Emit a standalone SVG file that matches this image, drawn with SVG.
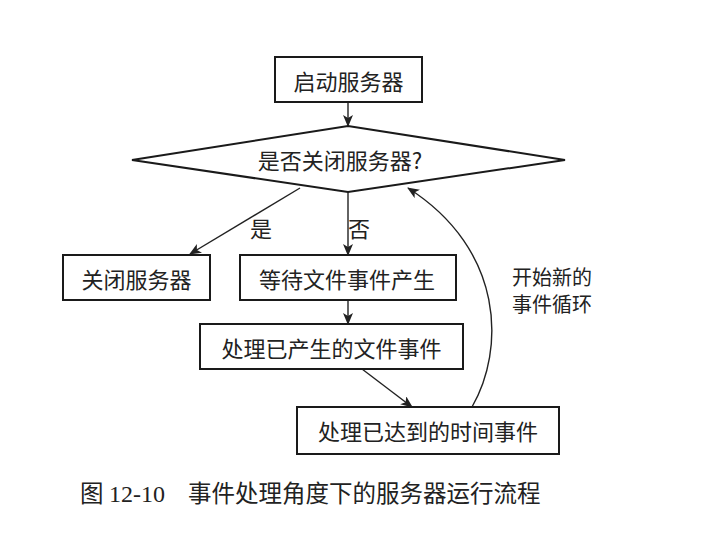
<svg xmlns="http://www.w3.org/2000/svg" width="704" height="536" viewBox="0 0 704 536">
<style>
.box{fill:#fff;stroke:#1a1a1a;stroke-width:2}
.t{font-family:"Noto Sans CJK SC","Noto Sans",sans-serif;font-size:22px;fill:#222;text-anchor:middle;dominant-baseline:central}
.c{fill:none;stroke:#222;stroke-width:1.4}
.cap{font-family:"Noto Sans CJK SC",sans-serif;font-size:23.5px;fill:#222}
</style>
<defs>
<marker id="ah" viewBox="0 0 12 10" refX="11" refY="5" markerWidth="12" markerHeight="10" markerUnits="userSpaceOnUse" orient="auto">
<path d="M0,0 L12,5 L0,10 L3,5 Z" fill="#222"/>
</marker>
</defs>
<rect width="704" height="536" fill="#fff"/>
<g id="connectors">
<line class="c" x1="348" y1="102" x2="348" y2="126" marker-end="url(#ah)"/>
<line class="c" x1="300" y1="188" x2="190" y2="254" marker-end="url(#ah)"/>
<line class="c" x1="348" y1="192" x2="348" y2="255" marker-end="url(#ah)"/>
<line class="c" x1="348" y1="300" x2="348" y2="324" marker-end="url(#ah)"/>
<line class="c" x1="362" y1="369" x2="412" y2="407" marker-end="url(#ah)"/>
<path class="c" d="M472,407 C505,350 505,250 408,188" marker-end="url(#ah)"/>
<text class="t" x="261" y="227">是</text>
<text class="t" x="359" y="227">否</text>
<text class="t" x="552" y="276" style="font-size:20px">开始新的</text>
<text class="t" x="552" y="303" style="font-size:20px">事件循环</text>
</g>
<g id="start">
<rect class="box" x="275" y="57" width="147" height="45"/>
<text class="t" x="348.5" y="79.5">启动服务器</text>
</g>
<g id="decision">
<polygon class="box" points="132,160 348,126 565,160 348,192"/>
<text class="t" x="340" y="159">是否关闭服务器?</text>
</g>
<g id="close">
<rect class="box" x="63" y="255" width="147" height="45"/>
<text class="t" x="136.5" y="277.5">关闭服务器</text>
</g>
<g id="wait">
<rect class="box" x="240" y="255" width="216" height="45"/>
<text class="t" x="347" y="277.5">等待文件事件产生</text>
</g>
<g id="fileevent">
<rect class="box" x="200" y="324" width="263" height="45"/>
<text class="t" x="331.5" y="346.5">处理已产生的文件事件</text>
</g>
<g id="timeevent">
<rect class="box" x="297" y="407" width="262" height="47"/>
<text class="t" x="428" y="430">处理已达到的时间事件</text>
</g>
<text class="cap" x="80" y="502"><tspan>图</tspan><tspan x="109" font-family="Liberation Serif,serif" font-size="24">12-10</tspan><tspan x="188">事件处理角度下的服务器运行流程</tspan></text>
</svg>
